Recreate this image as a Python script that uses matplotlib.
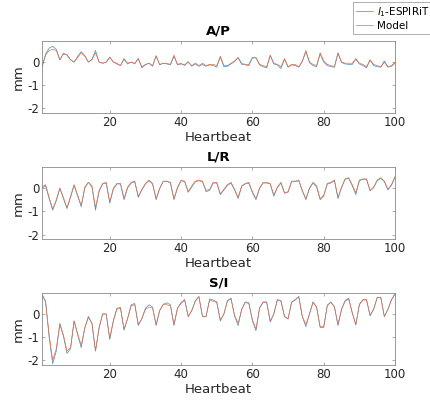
import matplotlib
matplotlib.use("Agg")
import matplotlib.pyplot as plt
import numpy as np

plt.rcParams['font.family'] = 'DejaVu Sans'
plt.rcParams['axes.unicode_minus'] = False

beats = np.arange(1, 101)

# A/P
ap_model = [-0.2, 0.3, 0.5, 0.55, 0.5, 0.1, 0.35, 0.3, 0.1, 0.0,
            0.2, 0.4, 0.25, 0.0, 0.1, 0.4, 0.0, -0.05, 0.0, 0.2,
            0.0, -0.05, -0.15, 0.15, -0.05, 0.0, -0.05, 0.15, -0.2, -0.1,
            -0.05, -0.15, 0.25, -0.1, -0.05, -0.05, -0.1, 0.3, -0.1, -0.05,
            -0.15, 0.0, -0.15, -0.05, -0.15, -0.05, -0.15, -0.1, -0.1, -0.15,
            0.25, -0.15, -0.15, -0.05, 0.05, 0.2, -0.05, -0.1, -0.1, 0.2,
            0.2, -0.1, -0.15, -0.2, 0.3, -0.05, -0.1, -0.2, 0.15, -0.2,
            -0.1, -0.1, -0.2, 0.05, 0.5, 0.0, -0.1, -0.15, 0.4, 0.05,
            -0.1, -0.15, -0.2, 0.4, 0.0, -0.05, -0.05, -0.05, 0.15, -0.05,
            -0.1, -0.2, 0.1, -0.1, -0.15, -0.2, 0.05, -0.2, -0.15, 0.0]
ap_espirit = [-0.25, 0.35, 0.6, 0.68, 0.55, 0.1, 0.38, 0.32, 0.1, 0.0,
              0.25, 0.45, 0.28, 0.0, 0.12, 0.5, 0.0, -0.05, 0.0, 0.22,
              0.0, -0.08, -0.15, 0.12, -0.08, 0.0, -0.08, 0.15, -0.25, -0.12,
              -0.05, -0.18, 0.28, -0.12, -0.05, -0.08, -0.12, 0.25, -0.12, -0.08,
              -0.12, 0.02, -0.18, -0.08, -0.18, -0.1, -0.18, -0.12, -0.15, -0.22,
              0.22, -0.2, -0.18, -0.08, 0.03, 0.18, -0.1, -0.12, -0.15, 0.18,
              0.18, -0.12, -0.2, -0.25, 0.28, -0.08, -0.12, -0.28, 0.12, -0.22,
              -0.12, -0.15, -0.22, 0.02, 0.45, -0.02, -0.15, -0.2, 0.35, 0.0,
              -0.15, -0.2, -0.22, 0.38, -0.02, -0.08, -0.1, -0.1, 0.12, -0.08,
              -0.15, -0.25, 0.08, -0.15, -0.2, -0.22, 0.0, -0.22, -0.18, -0.05]

# L/R
lr_model = [0.05, 0.15, -0.4, -0.9, -0.5, 0.0, -0.4, -0.85, -0.35, 0.15,
            -0.3, -0.75, 0.05, 0.25, 0.1, -0.85, -0.1, 0.2, 0.25, -0.6,
            0.0, 0.2, 0.2, -0.45, 0.05, 0.25, 0.3, -0.35, -0.05, 0.2,
            0.35, 0.2, -0.45, 0.0, 0.3, 0.3, 0.25, -0.45, 0.05, 0.35,
            0.3, -0.15, 0.1, 0.3, 0.35, 0.3, -0.1, -0.05, 0.25, 0.25,
            -0.25, -0.05, 0.15, 0.25, -0.05, -0.4, 0.1, 0.2, 0.25, -0.15,
            -0.45, 0.0, 0.25, 0.25, 0.2, -0.3, 0.05, 0.25, -0.2, -0.15,
            0.3, 0.3, 0.35, -0.1, -0.45, 0.0, 0.25, 0.1, -0.45, -0.3,
            0.2, 0.25, 0.35, -0.4, 0.05, 0.4, 0.45, 0.15, -0.2, 0.35,
            0.4, 0.4, -0.1, 0.05, 0.35, 0.45, 0.3, -0.05, 0.15, 0.5]
lr_espirit = [0.0, 0.1, -0.45, -0.95, -0.55, 0.0, -0.45, -0.88, -0.4, 0.12,
              -0.35, -0.8, 0.0, 0.25, 0.05, -0.95, -0.15, 0.18, 0.22, -0.65,
              -0.05, 0.18, 0.18, -0.5, 0.0, 0.22, 0.28, -0.4, -0.08, 0.18,
              0.32, 0.18, -0.5, -0.02, 0.28, 0.3, 0.22, -0.5, 0.0, 0.32,
              0.28, -0.18, 0.05, 0.28, 0.32, 0.28, -0.15, -0.1, 0.22, 0.22,
              -0.28, -0.08, 0.12, 0.22, -0.08, -0.45, 0.08, 0.18, 0.22, -0.2,
              -0.5, -0.02, 0.22, 0.22, 0.18, -0.35, 0.02, 0.22, -0.22, -0.18,
              0.28, 0.28, 0.32, -0.12, -0.5, -0.02, 0.22, 0.05, -0.5, -0.35,
              0.18, 0.22, 0.32, -0.45, 0.02, 0.38, 0.42, 0.1, -0.28, 0.32,
              0.38, 0.38, -0.12, 0.02, 0.32, 0.42, 0.28, -0.08, 0.12, 0.48]

# S/I
si_model = [0.85, 0.5, -0.9, -2.0, -1.5, -0.4, -0.9, -1.6, -1.45, -0.3,
            -0.85, -1.35, -0.6, -0.15, -0.4, -1.6, -0.6, 0.0, 0.0, -1.05,
            -0.3, 0.2, 0.25, -0.65, -0.2, 0.35, 0.4, -0.45, -0.2, 0.2,
            0.3, 0.25, -0.45, 0.15, 0.4, 0.4, 0.35, -0.45, 0.25, 0.45,
            0.6, -0.1, 0.15, 0.55, 0.75, -0.1, -0.1, 0.6, 0.55, 0.5,
            -0.25, 0.0, 0.55, 0.65, -0.05, -0.4, 0.2, 0.5, 0.45, -0.25,
            -0.65, 0.25, 0.5, 0.5, -0.3, 0.0, 0.6, 0.55, -0.1, -0.2,
            0.5, 0.6, 0.75, -0.1, -0.45, 0.0, 0.5, 0.3, -0.55, -0.55,
            0.35, 0.5, 0.3, -0.45, 0.2, 0.55, 0.65, 0.05, -0.45, 0.4,
            0.6, 0.6, -0.05, 0.2, 0.7, 0.7, -0.1, 0.2, 0.6, 0.85]
si_espirit = [0.85, 0.55, -1.0, -2.15, -1.6, -0.45, -0.95, -1.7, -1.5, -0.3,
              -0.9, -1.45, -0.6, -0.1, -0.4, -1.6, -0.6, 0.0, 0.0, -1.1,
              -0.3, 0.25, 0.28, -0.7, -0.2, 0.4, 0.45, -0.5, -0.2, 0.25,
              0.4, 0.3, -0.5, 0.15, 0.42, 0.48, 0.4, -0.5, 0.25, 0.5,
              0.62, -0.12, 0.15, 0.58, 0.75, -0.12, -0.12, 0.65, 0.6, 0.52,
              -0.3, 0.0, 0.58, 0.68, -0.1, -0.5, 0.2, 0.52, 0.48, -0.3,
              -0.72, 0.25, 0.52, 0.52, -0.35, 0.0, 0.62, 0.58, -0.12, -0.22,
              0.52, 0.62, 0.75, -0.12, -0.55, 0.0, 0.52, 0.3, -0.58, -0.58,
              0.38, 0.52, 0.32, -0.5, 0.2, 0.58, 0.68, 0.05, -0.48, 0.42,
              0.62, 0.62, -0.08, 0.2, 0.72, 0.72, -0.12, 0.2, 0.62, 0.88]

titles = ['A/P', 'L/R', 'S/I']
espirit = [ap_espirit, lr_espirit, si_espirit]
model = [ap_model, lr_model, si_model]

blue = '#3d8fd0'
orange = '#e0703f'
grey = '#8a8a8a'

fig = plt.figure(figsize=(4.3, 4.04), dpi=100)
bottoms = [0.720, 0.408, 0.0965]

for i in range(3):
    ax = fig.add_axes([0.0977, bottoms[i], 0.821, 0.178])
    l1, = ax.plot(beats, espirit[i], color=blue, linewidth=0.5)
    l2, = ax.plot(beats, model[i], color=orange, linewidth=0.5)
    ax.set_xlim(1, 100)
    ax.set_ylim(-2.2, 0.9)
    ax.set_xticks([20, 40, 60, 80, 100])
    ax.set_yticks([-2, -1, 0])
    ax.tick_params(direction='in', top=True, right=True, length=2.5,
                   width=0.5, color=grey, labelsize=8.5, labelcolor='#262626', pad=2)
    for s in ax.spines.values():
        s.set_color(grey)
        s.set_linewidth(0.6)
    ax.set_title(titles[i], fontsize=9.5, fontweight='bold', pad=5)
    ax.set_xlabel('Heartbeat', fontsize=9.5, color='#262626', labelpad=1.5)
    ax.set_ylabel('mm', fontsize=9.5, color='#262626', labelpad=2)

leg = fig.legend([l1, l2], ['$l_1$-ESPIRiT', 'Model'], loc='upper left',
                 bbox_to_anchor=(353 / 430, 1 - 2 / 404), fontsize=7.5,
                 frameon=True, fancybox=False, handlelength=1.6,
                 handletextpad=0.4, borderpad=0.3, labelspacing=0.2,
                 borderaxespad=0)
leg.get_frame().set_edgecolor(grey)
leg.get_frame().set_linewidth(0.6)

fig.savefig('out.png', dpi=100)
